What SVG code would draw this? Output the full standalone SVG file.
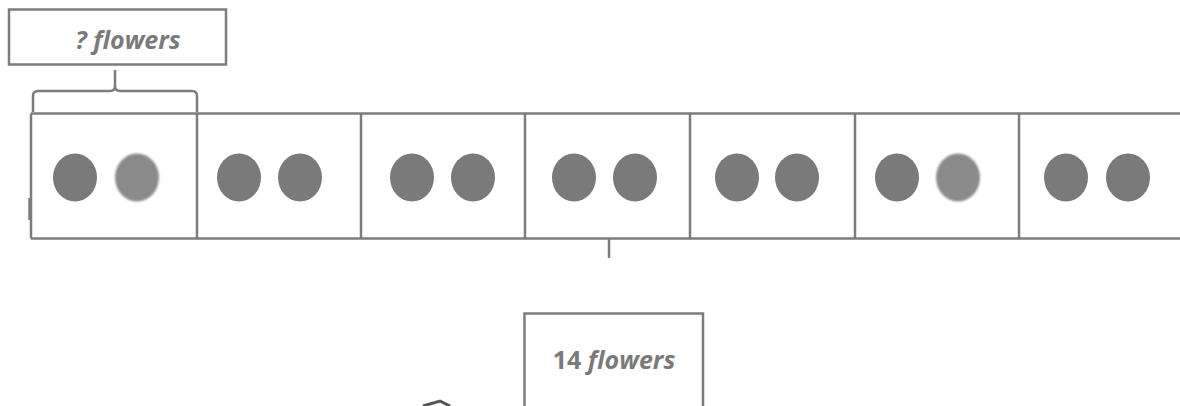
<svg xmlns="http://www.w3.org/2000/svg" width="1180" height="406" viewBox="0 0 1180 406">
<style>
.ln{fill:none;stroke:#7d7d7d;stroke-width:2.5}
.dot{fill:#7a7a7a}
.lt{fill:#8a8a8a}
.lbl{font-family:"Open Sans","Liberation Sans",sans-serif;font-weight:bold;font-size:25px;fill:#7a7a7a}
</style>
<defs>
<filter id="blur" x="-20%" y="-20%" width="140%" height="140%"><feGaussianBlur stdDeviation="1"/></filter>
</defs>
<rect width="1180" height="406" fill="#ffffff"/>
<g id="top-label">
<rect class="ln" x="9" y="9.5" width="217" height="55"/>
<text class="lbl" x="128" y="49" text-anchor="middle" font-style="italic">? flowers</text>
</g>
<g id="strip">
<path class="ln" d="M31 113.5 H1180 M31 238.5 H1180 M31 113.5 V238.5"/>
<path class="ln" d="M197 113.5 V238.5 M361 113.5 V238.5 M525 113.5 V238.5 M690 113.5 V238.5 M855 113.5 V238.5 M1019 113.5 V238.5"/>
<path class="ln" d="M29.5 198 V220"/>
</g>
<g id="cells">
<ellipse class="dot" cx="75" cy="177.5" rx="22" ry="24"/>
<ellipse class="lt" cx="137" cy="177.5" rx="22" ry="24" filter="url(#blur)"/>
<ellipse class="dot" cx="239" cy="177.5" rx="22" ry="24"/>
<ellipse class="dot" cx="300" cy="177.5" rx="22" ry="24"/>
<ellipse class="dot" cx="412" cy="177.5" rx="22" ry="24"/>
<ellipse class="dot" cx="473" cy="177.5" rx="22" ry="24"/>
<ellipse class="dot" cx="574" cy="177.5" rx="22" ry="24"/>
<ellipse class="dot" cx="635" cy="177.5" rx="22" ry="24"/>
<ellipse class="dot" cx="737" cy="177.5" rx="22" ry="24"/>
<ellipse class="dot" cx="797" cy="177.5" rx="22" ry="24"/>
<ellipse class="dot" cx="897" cy="177.5" rx="22" ry="24"/>
<ellipse class="lt" cx="958" cy="177.5" rx="22" ry="24" filter="url(#blur)"/>
<ellipse class="dot" cx="1066" cy="177.5" rx="22" ry="24"/>
<ellipse class="dot" cx="1128" cy="177.5" rx="22" ry="24"/>
</g>
<g id="bottom-label">
<path class="ln" d="M524.5 406 V313.5 H703 V406"/>
<text class="lbl" x="614" y="369" text-anchor="middle">14 <tspan font-style="italic">flowers</tspan></text>
</g>
<g id="connectors">
<path class="ln" d="M115 70 V86 Q115 91 110 91 H38 Q33 91 33 96 V112"/>
<path class="ln" d="M115 86 Q115 91 120 91 H192 Q197 91 197 96 V112"/>
<path class="ln" d="M609 239 V258"/>
<path d="M423 406 L440 401 L450 406" fill="none" stroke="#555" stroke-width="3"/>
</g>
</svg>
